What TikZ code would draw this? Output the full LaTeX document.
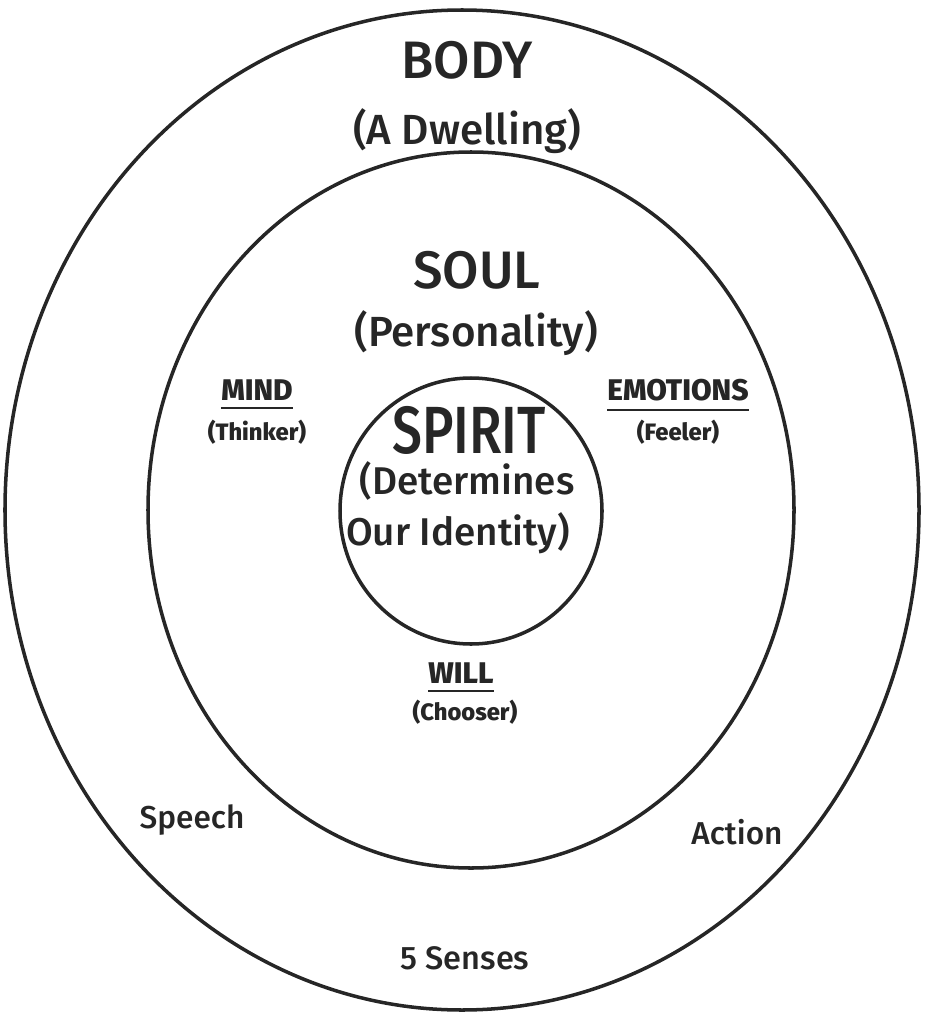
\documentclass[tikz,border=0pt]{standalone}
\usepackage{fontspec}
\setmainfont{Fira Sans}[UprightFont=* Medium]
\newfontfamily\narrowfont{Fira Sans}[FakeStretch=0.8, UprightFont=* Medium]
\usetikzlibrary{positioning}

\begin{document}
\begin{tikzpicture}[
            x=0.02cm, y=-0.02cm,
            ring/.style={draw=black!85, line width=2pt},
            title/.style={text=black!85, inner sep=0pt, font=\fontsize{30}{30}\selectfont},
            sub/.style={text=black!85, inner sep=0pt, font=\fontsize{24}{24}\selectfont},
            part/.style={text=black!85, inner sep=0pt, font=\fontsize{17}{17}\selectfont\bfseries},
            role/.style={text=black!85, inner sep=0pt, font=\fontsize{13.5}{13.5}\selectfont\bfseries},
            sense/.style={text=black!85, inner sep=0pt, font=\fontsize{18}{18}\selectfont},
            rule/.style={draw=black!85, line width=1.2pt}
        ]
            \useasboundingbox (0,0) rectangle (928,1017);

            % the three rings
            \draw[ring] (462,510) ellipse [x radius=457, y radius=500];
            \draw[ring] (471,510) ellipse [x radius=323, y radius=358];
            \draw[ring] (471,511) ellipse [x radius=131, y radius=133];

            % body
            \node[title] (body) at (467,60) {BODY};
            \node[sub] (dwelling) at (467,131) {(A Dwelling)};

            % soul
            \node[title] (soul) at (477,270) {SOUL};
            \node[sub] (personality) at (476,333) {(Personality)};

            % spirit
            \node[title, font=\fontsize{38}{38}\narrowfont] (spirit) at (469,430) {SPIRIT};
            \node[sub, font=\fontsize{22}{22}\selectfont] (determines) at (467,481) {(Determines};
            \node[sub, font=\fontsize{22}{22}\selectfont] (identity) at (458,533) {Our Identity)};

            % faculties of the soul
            \node[part] (mind) at (257,390) {MIND};
            \node[role] (thinker) at (257,432) {(Thinker)};
            \node[part] (emotions) at (678,390) {EMOTIONS};
            \node[role] (feeler) at (678,432) {(Feeler)};
            \node[part] (will) at (461,673) {WILL};
            \node[role] (chooser) at (465,712) {(Chooser)};
            \draw[rule] ([yshift=-4pt]mind.south west) -- ([yshift=-4pt]mind.south east);
            \draw[rule] ([yshift=-5pt]emotions.south west) -- ([yshift=-5pt]emotions.south east);
            \draw[rule] ([yshift=-4pt]will.south west) -- ([yshift=-4pt]will.south east);

            % body senses
            \node[sense] (speech) at (192,820) {Speech};
            \node[sense] (action) at (737,832) {Action};
            \node[sense, font=\fontsize{18.5}{18.5}\selectfont] (senses) at (465,958) {5 Senses};
        \end{tikzpicture}
\end{document}
